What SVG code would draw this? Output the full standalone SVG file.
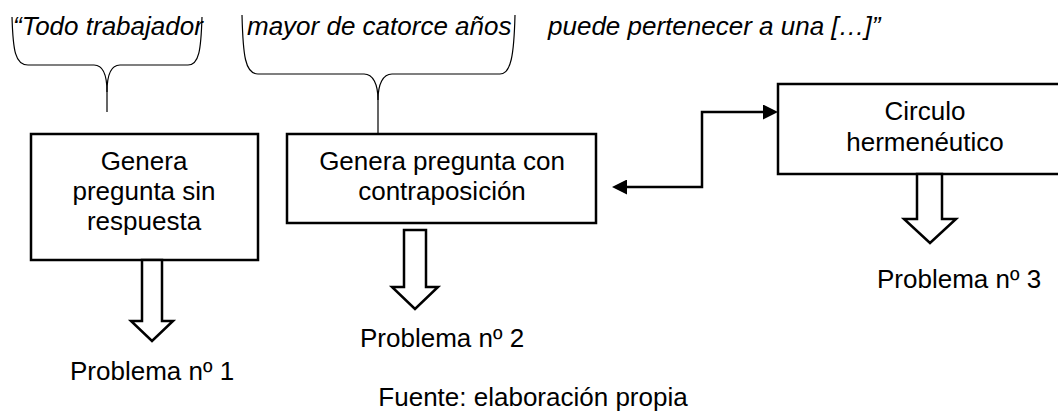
<svg xmlns="http://www.w3.org/2000/svg" width="1058" height="414" viewBox="0 0 1058 414">
<style>
text{font-family:"Liberation Sans",Arial,sans-serif;font-size:26px;fill:#000}
.q{font-style:italic}
.m{text-anchor:middle}
.box{fill:#fff;stroke:#000;stroke-width:2.5}
.brace{fill:none;stroke:#000;stroke-width:1.2}
.hollow{fill:#fff;stroke:#000;stroke-width:2.5;stroke-linejoin:miter}
.conn{fill:none;stroke:#000;stroke-width:2.5}
</style>
<defs>
<marker id="ah" markerUnits="userSpaceOnUse" viewBox="0 0 15 15" markerWidth="15" markerHeight="15" refX="0" refY="7.5" orient="auto-start-reverse">
<path d="M0,0 L15,7.5 L0,15 z" fill="#000"/>
</marker>
</defs>
<g id="quote">
<text class="q" x="13" y="35">“Todo trabajador</text>
<text class="q" x="247" y="35">mayor de catorce años</text>
<text class="q" x="548" y="35">puede pertenecer a una […]”</text>
</g>
<g id="brace1">
<path class="brace" d="M12,17 C13,50 15,65 28,65 L94,65 C103,65 107,75 107,92 L107,112"/>
<path class="brace" d="M107,92 C107,75 111,65 120,65 L188,65 C199,65 201,50 202,17"/>
</g>
<g id="brace2">
<path class="brace" d="M242,15 C243,55 245,74 258,74 L364,74 C373,74 378,84 378,100 L378,134"/>
<path class="brace" d="M378,100 C378,84 383,74 392,74 L500,74 C511,74 514,55 515,15"/>
</g>
<g id="node1">
<rect class="box" x="31" y="134" width="227" height="126"/>
<text class="m" x="144" y="170">Genera</text>
<text class="m" x="144" y="200">pregunta sin</text>
<text class="m" x="144" y="230">respuesta</text>
</g>
<g id="node2">
<rect class="box" x="287" y="134" width="309" height="89"/>
<text class="m" x="442" y="170">Genera pregunta con</text>
<text class="m" x="442" y="200">contraposición</text>
</g>
<g id="node3">
<rect class="box" x="778" y="84" width="300" height="90"/>
<text class="m" x="925" y="120">Circulo</text>
<text class="m" x="925" y="151">hermenéutico</text>
</g>
<g id="connectors">
<path class="conn" d="M627,187 L702,187 L702,112 L763,112" marker-start="url(#ah)" marker-end="url(#ah)"/>
<polygon class="hollow" points="142,260 162,260 162,321 173,321 152,341 131,321 142,321"/>
<polygon class="hollow" points="404,230 426,230 426,287 438,287 415,309 392,287 404,287"/>
<polygon class="hollow" points="917,174 942,174 942,219 956,219 930,243 904,219 917,219"/>
</g>
<g id="labels">
<text x="70" y="380">Problema nº 1</text>
<text x="360" y="347">Problema nº 2</text>
<text x="877" y="288">Problema nº 3</text>
<text class="m" x="533" y="406">Fuente: elaboración propia</text>
</g>
</svg>
